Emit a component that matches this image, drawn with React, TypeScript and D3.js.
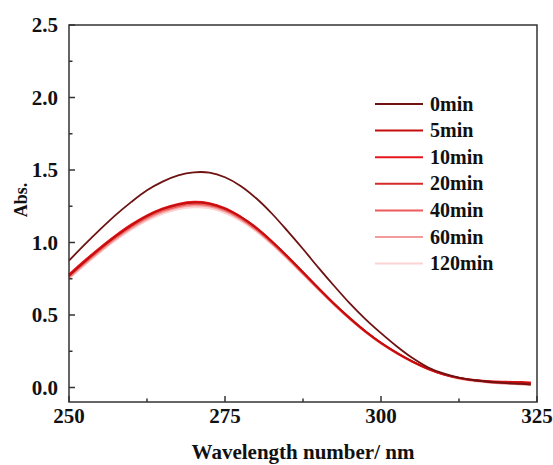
import React from "react";
import * as d3 from "d3";

const wavelengths = [250,252.5,255,257.5,260,262.5,265,267.5,270,272.5,275,277.5,280,282.5,285,287.5,290,292.5,295,297.5,300,302.5,305,307.5,310,312.5,315,317.5,320,322.5,324];

const abs0 = [0.875,0.985,1.09,1.19,1.28,1.36,1.42,1.463,1.484,1.482,1.45,1.39,1.305,1.2,1.08,0.955,0.825,0.7,0.58,0.472,0.375,0.285,0.205,0.14,0.097,0.068,0.05,0.038,0.03,0.025,0.02];
const abs5 = [0.77,0.867,0.958,1.043,1.118,1.182,1.23,1.261,1.275,1.267,1.233,1.177,1.101,1.008,0.905,0.795,0.685,0.578,0.479,0.388,0.308,0.24,0.18,0.13,0.092,0.066,0.05,0.04,0.036,0.034,0.03];
const abs10 = [0.78,0.876,0.966,1.05,1.125,1.188,1.236,1.267,1.281,1.272,1.238,1.18,1.104,1.01,0.906,0.796,0.686,0.579,0.48,0.389,0.309,0.241,0.181,0.131,0.093,0.067,0.052,0.043,0.04,0.038,0.035];
const abs20 = [0.775,0.871,0.961,1.045,1.12,1.183,1.231,1.262,1.276,1.268,1.234,1.176,1.1,1.006,0.902,0.792,0.682,0.575,0.476,0.386,0.306,0.238,0.179,0.129,0.091,0.065,0.049,0.04,0.035,0.033,0.03];
const abs40 = [0.765,0.86,0.95,1.034,1.108,1.171,1.219,1.25,1.264,1.256,1.223,1.166,1.091,0.998,0.896,0.787,0.678,0.572,0.474,0.384,0.305,0.237,0.178,0.128,0.09,0.064,0.047,0.036,0.03,0.026,0.022];
const abs60 = [0.755,0.85,0.94,1.024,1.098,1.161,1.209,1.24,1.254,1.247,1.214,1.158,1.084,0.992,0.891,0.783,0.675,0.57,0.472,0.383,0.304,0.236,0.177,0.127,0.089,0.062,0.045,0.034,0.027,0.022,0.018];
const abs120 = [0.75,0.843,0.932,1.015,1.088,1.15,1.198,1.228,1.242,1.235,1.203,1.148,1.075,0.985,0.885,0.778,0.671,0.567,0.47,0.381,0.303,0.235,0.176,0.126,0.088,0.06,0.043,0.032,0.025,0.02,0.016];

const seriesNames = ["0min","5min","10min","20min","40min","60min","120min"];
const seriesValues = [abs0, abs5, abs10, abs20, abs40, abs60, abs120];
const seriesColors = ["#6e1212","#c40d0d","#e3161c","#d42a2a","#ee5a5a","#f39a9a","#fbd3d3"];

const xTicks = [250, 275, 300, 325];
const xMinor = [262.5, 287.5, 312.5];
const yTicks = [0, 0.5, 1.0, 1.5, 2.0, 2.5];
const yMinor = [0.25, 0.75, 1.25, 1.75, 2.25];

const W = 553, H = 465;
const L = 69, R = 537, T = 25, B = 402;
const FONT = "'Liberation Serif', 'Times New Roman', serif";

export default function App() {
  const x = d3.scaleLinear().domain([250, 325]).range([L, R]);
  const y = d3.scaleLinear().domain([-0.1, 2.5]).range([B, T]);
  const line = d3.line<[number, number]>()
    .x(d => x(d[0])).y(d => y(d[1])).curve(d3.curveCatmullRom.alpha(0.5));
  const axisColor = "#333";
  const drawOrder = [6, 5, 4, 3, 2, 1, 0];
  return (
    <svg width={W} height={H} style={{ position: "absolute", left: 0, top: 0, background: "#fff" }}>
      <rect x={0} y={0} width={W} height={H} fill="#fff" />
      <g>
        {drawOrder.map(i => (
          <path key={i} d={line(wavelengths.map((w, j) => [w, seriesValues[i][j]]) as [number, number][]) || ""}
            fill="none" stroke={seriesColors[i]} strokeWidth={1.8} />
        ))}
      </g>
      <rect x={L} y={T} width={R - L} height={B - T} fill="none" stroke={axisColor} strokeWidth={1.5} />
      {xTicks.map(t => (
        <g key={t}>
          <line x1={x(t)} x2={x(t)} y1={B} y2={B - 6} stroke={axisColor} strokeWidth={1.5} />
          <text x={x(t)} y={423} textAnchor="middle" fontFamily={FONT} fontWeight="bold" fontSize={21} fill="#111">{t}</text>
        </g>
      ))}
      {xMinor.map(t => (
        <line key={t} x1={x(t)} x2={x(t)} y1={B} y2={B - 3.5} stroke={axisColor} strokeWidth={1.5} />
      ))}
      {yTicks.map(t => (
        <g key={t}>
          <line x1={L} x2={L + 6} y1={y(t)} y2={y(t)} stroke={axisColor} strokeWidth={1.5} />
          <text x={58} y={y(t) + 7} textAnchor="end" fontFamily={FONT} fontWeight="bold" fontSize={21} fill="#111">{t.toFixed(1)}</text>
        </g>
      ))}
      {yMinor.map(t => (
        <line key={t} x1={L} x2={L + 3.5} y1={y(t)} y2={y(t)} stroke={axisColor} strokeWidth={1.5} />
      ))}
      <text x={303} y={459} textAnchor="middle" fontFamily={FONT} fontWeight="bold" fontSize={21} fill="#111">Wavelength number/ nm</text>
      <text transform={`translate(27,${200}) rotate(-90)`} textAnchor="middle" fontFamily={FONT} fontWeight="bold" fontSize={18} fill="#111">Abs.</text>
      {seriesNames.map((n, i) => {
        const yy = 104 + i * 26.6;
        return (
          <g key={n}>
            <line x1={375} x2={423} y1={yy} y2={yy} stroke={seriesColors[i]} strokeWidth={2} />
            <text x={430} y={yy + 6.5} fontFamily={FONT} fontWeight="bold" fontSize={20} fill="#111">{n}</text>
          </g>
        );
      })}
    </svg>
  );
}
